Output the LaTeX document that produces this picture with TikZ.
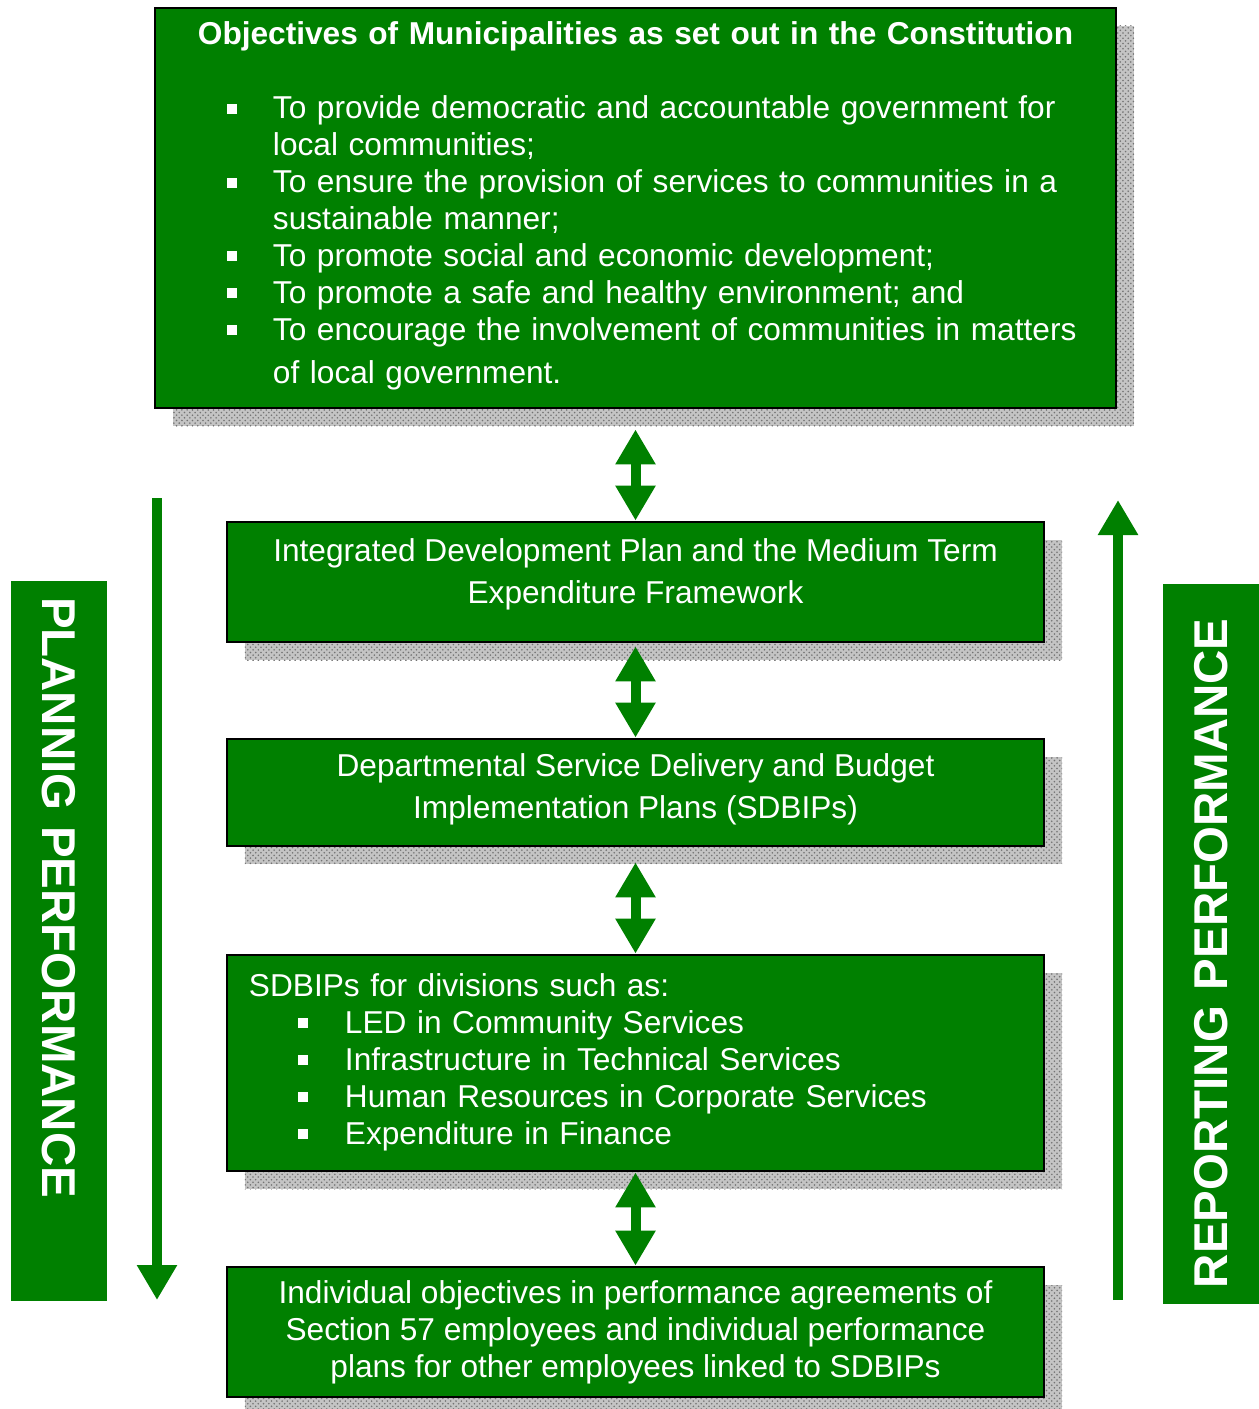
\documentclass[tikz,border=0pt]{standalone}
\usepackage{fontspec}
\setmainfont{Liberation Sans}
\usepackage{tikz}
\usetikzlibrary{arrows.meta,positioning,shadows,patterns}
\definecolor{SAgreen}{RGB}{0,128,0}
\definecolor{ShadowGrey}{RGB}{196,196,196}
\newcommand{\sqbul}{\raisebox{1mm}{\rule{2mm}{2mm}}}

\begin{document}
\begin{tikzpicture}[x=0.2mm,y=-0.2mm,
  every node/.style={font=\fontsize{18}{21}\selectfont},
  box/.style={draw=black,line width=1.6pt,fill=SAgreen,text=white,inner sep=0pt,align=center,
    general shadow={shadow xshift=3.6mm,shadow yshift=-3.6mm,fill=ShadowGrey,
      postaction={pattern=crosshatch dots,pattern color=black!55}}},
  banner/.style={fill=SAgreen,text=white,font=\fontsize{27}{30}\selectfont\bfseries,
    inner xsep=3.2mm,inner ysep=0pt,minimum height=19.2mm,text width=137.6mm,align=left},
  dblarrow/.style={SAgreen,line width=2mm,{Triangle[width=7.6mm,length=7mm]}-{Triangle[width=7.6mm,length=7mm]}},
  flow/.style={SAgreen,line width=2mm,-{Triangle[width=7.6mm,length=7mm]}}]
\useasboundingbox (0,0) rectangle (1259,1409);

% objectives box
\node[box,minimum width=192.2mm,minimum height=80mm,text width=192.2mm,align=left] (obj) at (635.5,208) {%
\makebox[192.2mm]{\bfseries Objectives of Municipalities as set out in the Constitution}\\[7.4mm]
\begin{tabular}[t]{@{\hspace{14.4mm}}p{9.2mm}@{}l@{}}
\sqbul & To provide democratic and accountable government for\\
 & local communities;\\
\sqbul & To ensure the provision of services to communities in a\\
 & sustainable manner;\\
\sqbul & To promote social and economic development;\\
\sqbul & To promote a safe and healthy environment; and\\
\sqbul & To encourage the involvement of communities in matters\\[1.2mm]
 & of local government.
\end{tabular}};

% plans, top to bottom
\node[box,minimum width=163.4mm,minimum height=24mm] (idp) at (635.5,582) {};
\node (idptext) at ([yshift=1.6mm]idp.center) [text=white,align=center]
  {Integrated Development Plan and the Medium Term\\[3pt]Expenditure Framework};
\node[box,minimum width=163.4mm,minimum height=21.4mm] (dept) at (635.5,792.5) {};
\node (depttext) at ([yshift=0.6mm]dept.center) [text=white,align=center]
  {Departmental Service Delivery and Budget\\[3pt]Implementation Plans (SDBIPs)};
\node[box,minimum width=163.4mm,minimum height=43.2mm,inner xsep=4.4mm,text width=154.6mm,align=left] (div) at (635.5,1063) {%
\begin{tabular}{@{\hspace{9.8mm}}p{9.4mm}@{}l@{}}
\multicolumn{2}{@{}l@{}}{SDBIPs for divisions such as:}\\
\sqbul & LED in Community Services\\
\sqbul & Infrastructure in Technical Services\\
\sqbul & Human Resources in Corporate Services\\
\sqbul & Expenditure in Finance
\end{tabular}};
\node[box,minimum width=163.4mm,minimum height=26mm] (indiv) at (635.5,1332)
  {Individual objectives in performance agreements of\\Section 57 employees and individual performance\\plans for other employees linked to SDBIPs};

% links between levels
\draw[dblarrow,shorten <=4mm] (obj.south) -- (idp.north);
\draw[dblarrow,shorten <=0.6mm] (idp.south) -- (dept.north);
\draw[dblarrow,shorten <=3mm] (dept.south) -- (div.north);
\draw[dblarrow] (div.south) -- (indiv.north);

% side banners and flow arrows
\node[banner,rotate=-90] (plan) at (59,941) {PLANNIG PERFORMANCE};
\node[banner,rotate=90] (rep) at (1211,944) {REPORTING PERFORMANCE};
\coordinate (plantop) at (157,498);
\coordinate (planbot) at (157,1300);
\coordinate (repbot) at (1118,1300);
\coordinate (reptop) at (1118,500);
\draw[flow] (plantop) -- (planbot);
\draw[flow] (repbot) -- (reptop);
\end{tikzpicture}
\end{document}
